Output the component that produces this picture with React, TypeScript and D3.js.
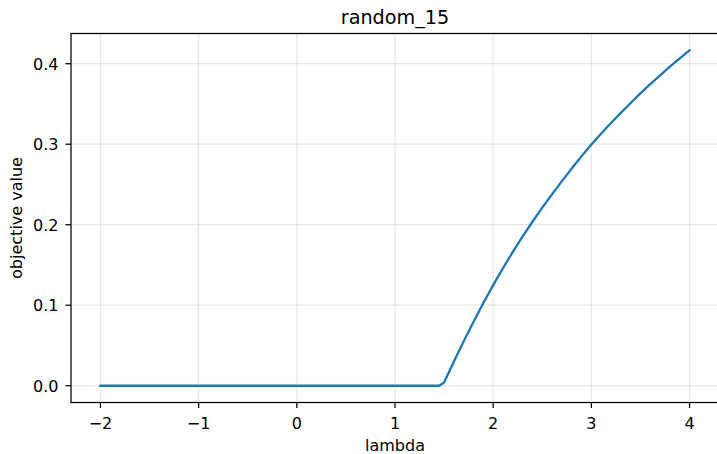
import React from "react";
import * as d3 from "d3";

const lambdas = [
  -2, -1.5, -1, -0.5, 0, 0.5, 1, 1.45, 1.5, 1.6, 1.7, 1.8, 1.9, 2.0, 2.1, 2.2, 2.3, 2.4, 2.5,
  2.6, 2.7, 2.8, 2.9, 3.0, 3.1, 3.2, 3.3, 3.4, 3.5, 3.6, 3.7, 3.8, 3.9, 4.0,
];
const objective = [
  0, 0, 0, 0, 0, 0, 0, 0, 0.004, 0.0302, 0.0554, 0.0796, 0.1028, 0.125, 0.1461, 0.1662, 0.1854,
  0.2037, 0.2212, 0.2379, 0.2541, 0.2698, 0.285, 0.2997, 0.3133, 0.3263, 0.3389, 0.3512, 0.3632,
  0.3746, 0.3856, 0.3963, 0.4067, 0.4167,
];
const xTicks = [-2, -1, 0, 1, 2, 3, 4];
const yTicks = [0.0, 0.1, 0.2, 0.3, 0.4];
const title = "random_15";
const xLabel = "lambda";
const yLabel = "objective value";

const W = 717;
const H = 454;
const left = 71;
const right = 719;
const top = 33.5;
const bottom = 402.5;
const font = "DejaVu Sans, sans-serif";
const fs = 16;
const tickLen = 5.6;
const thin = 1.25;

export default function App() {
  const yMax = d3.max(objective) as number;
  const yMin = d3.min(objective) as number;
  const yPad = (yMax - yMin) * 0.05;
  const xMin = d3.min(lambdas) as number;
  const xMax = d3.max(lambdas) as number;
  const xPad = (xMax - xMin) * 0.05;
  const x = d3.scaleLinear().domain([xMin - xPad, xMax + xPad]).range([left, right]);
  const y = d3.scaleLinear().domain([yMin - yPad, yMax + yPad]).range([bottom, top]);
  const pts = lambdas.map((l, i) => [l, objective[i]] as [number, number]);
  const line = d3
    .line<[number, number]>()
    .x((d) => x(d[0]))
    .y((d) => y(d[1]));
  const fmtY = d3.format(".1f");
  const fmtX = (v: number) => (v < 0 ? "\u2212" + Math.abs(v) : String(v));

  return (
    <svg
      width={W}
      height={H}
      style={{ position: "absolute", left: 0, top: 0, background: "#fff" }}
    >
      <rect x={0} y={0} width={W} height={H} fill="#fff" />
      {xTicks.map((t) => (
        <line
          key={"gx" + t}
          x1={x(t)}
          x2={x(t)}
          y1={top}
          y2={bottom}
          stroke="#b0b0b0"
          strokeOpacity={0.3}
          strokeWidth={thin}
        />
      ))}
      {yTicks.map((t) => (
        <line
          key={"gy" + t}
          x1={left}
          x2={right}
          y1={y(t)}
          y2={y(t)}
          stroke="#b0b0b0"
          strokeOpacity={0.3}
          strokeWidth={thin}
        />
      ))}
      <path
        d={line(pts) || ""}
        fill="none"
        stroke="#1f77b4"
        strokeWidth={2.3}
        strokeLinejoin="round"
        strokeLinecap="square"
      />
      <rect
        x={left}
        y={top}
        width={right - left}
        height={bottom - top}
        fill="none"
        stroke="#000"
        strokeWidth={thin}
      />
      {xTicks.map((t) => (
        <g key={"xt" + t}>
          <line x1={x(t)} x2={x(t)} y1={bottom} y2={bottom + tickLen} stroke="#000" strokeWidth={thin} />
          <text x={x(t)} y={428.5} textAnchor="middle" fontFamily={font} fontSize={fs} fill="#000">
            {fmtX(t)}
          </text>
        </g>
      ))}
      {yTicks.map((t) => (
        <g key={"yt" + t}>
          <line x1={left - tickLen} x2={left} y1={y(t)} y2={y(t)} stroke="#000" strokeWidth={thin} />
          <text x={58.5} y={y(t) + 5.8} textAnchor="end" fontFamily={font} fontSize={fs} fill="#000">
            {fmtY(t)}
          </text>
        </g>
      ))}
      <text
        x={(left + right) / 2}
        y={450.5}
        textAnchor="middle"
        fontFamily={font}
        fontSize={fs}
        fill="#000"
      >
        {xLabel}
      </text>
      <text
        transform={`translate(22, ${(top + bottom) / 2}) rotate(-90)`}
        textAnchor="middle"
        fontFamily={font}
        fontSize={fs}
        fill="#000"
      >
        {yLabel}
      </text>
      <text
        x={(left + right) / 2}
        y={24}
        textAnchor="middle"
        fontFamily={font}
        fontSize={19.2}
        fill="#000"
      >
        {title}
      </text>
    </svg>
  );
}
